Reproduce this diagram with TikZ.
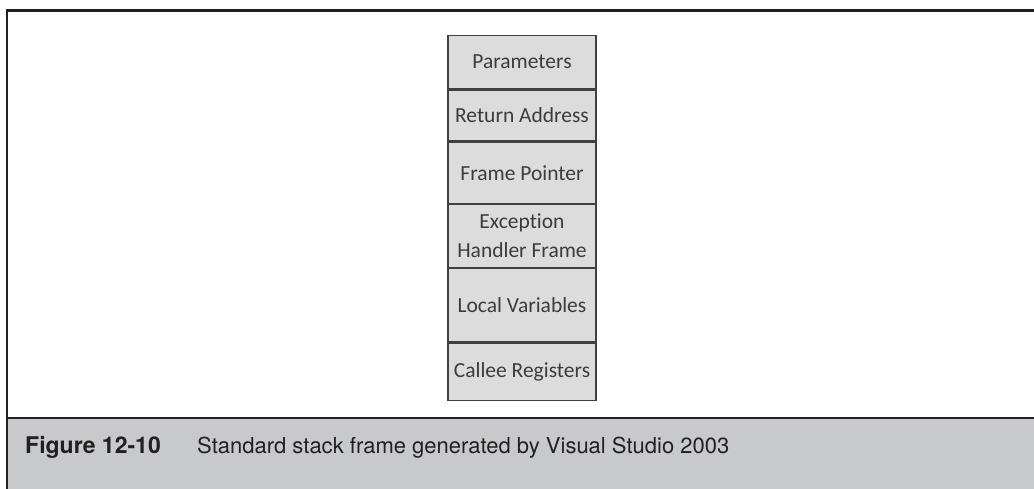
\documentclass[tikz,border=0pt]{standalone}
\usepackage{fontspec}
\setmainfont[Ligatures={NoCommon}]{Carlito}
\newfontfamily\capfont{TeX Gyre Heros}
\definecolor{cellfill}{HTML}{DCDCDC}
\definecolor{celltext}{HTML}{3C3C3C}
\definecolor{cellline}{HTML}{404040}
\definecolor{capfill}{HTML}{C8C9CB}
\definecolor{captext}{HTML}{231F20}
\definecolor{rule}{HTML}{231F20}
\begin{document}
\begin{tikzpicture}[x=1pt,y=-1pt,
  cell/.style={draw=cellline, line width=1.3pt, fill=cellfill, minimum width=148pt,
    inner sep=0pt, text=celltext, font=\fontsize{21.5}{29}\selectfont, align=center, anchor=north},
  frame/.style={draw=rule, line width=2.6pt},
  captxt/.style={text=captext, anchor=base west, inner sep=0pt}]
\useasboundingbox (0,0) rectangle (1034,489);
\fill[white] (0,0) rectangle (1034,489);
% caption band
\fill[capfill] (7,418) rectangle (1034,489);
\draw[frame] (1034,10.5) -- (7,10.5) -- (7,489);
\draw[frame] (7,418) -- (1034,418);
% stack cells
\node[cell, minimum height=53pt] (par) at (522,35) {Parameters};
\node[cell, minimum height=51pt] (ret) at (par.south) {Return Address};
\node[cell, minimum height=61pt] (fp) at (ret.south) {Frame Pointer};
\node[cell, minimum height=63pt] (exc) at (fp.south) {Exception\\Handler Frame};
\node[cell, minimum height=73pt] (loc) at (exc.south) {Local Variables};
\node[cell, minimum height=57pt] (cal) at (loc.south) {Callee Registers};
% caption
\node[captxt, font=\capfont\bfseries\fontsize{23}{26}\selectfont] (fig) at (25,453) {Figure 12-10};
\node[captxt, font=\capfont\fontsize{22}{26}\selectfont] (cap) at (197,453) {Standard stack frame generated by Visual Studio 2003};
\end{tikzpicture}
\end{document}
